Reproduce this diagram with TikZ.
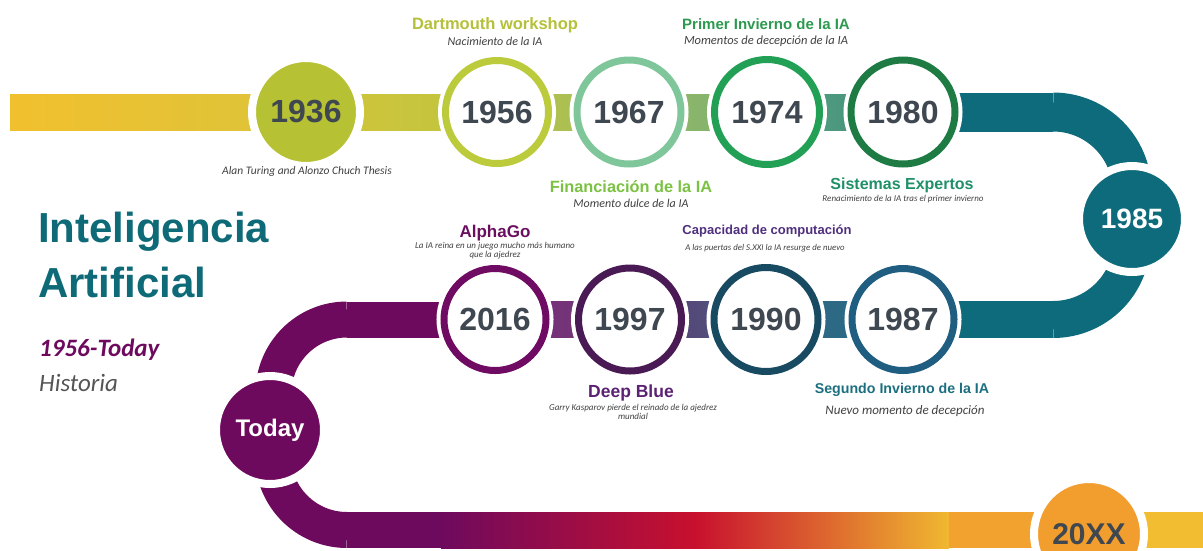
\documentclass[tikz,border=0pt]{standalone}
\usepackage{fontspec}
\setmainfont{Liberation Sans}
\newfontfamily\carl{Carlito}
\usetikzlibrary{calc}
\pgfdeclarelayer{bg}
\pgfsetlayers{bg,main}
\definecolor{yeartxt}{HTML}{3F4750}
\definecolor{notegray}{HTML}{404040}
\definecolor{titleteal}{HTML}{0F6A78}
\definecolor{tpurple}{HTML}{6E0A5E}
\definecolor{histgray}{HTML}{555555}
\definecolor{c1936}{HTML}{B6C233}
\definecolor{c1956}{HTML}{BCCB3B}
\definecolor{c1967}{HTML}{7FC79A}
\definecolor{c1974}{HTML}{22A056}
\definecolor{c1980}{HTML}{1E7B44}
\definecolor{c1985}{HTML}{0E6B7B}
\definecolor{c1987}{HTML}{1F5E80}
\definecolor{c1990}{HTML}{184A62}
\definecolor{c1997}{HTML}{4A1A54}
\definecolor{c2016}{HTML}{6F0B63}
\definecolor{cToday}{HTML}{6E0A5E}
\definecolor{c20XX}{HTML}{F29E2E}
\definecolor{hDart}{HTML}{B5C03A}
\definecolor{hFin}{HTML}{7BC143}
\definecolor{hPrim}{HTML}{2C9A4E}
\definecolor{hSis}{HTML}{1F9068}
\definecolor{hAlpha}{HTML}{6A0F5F}
\definecolor{hCap}{HTML}{4F2F7E}
\definecolor{hDeep}{HTML}{5B2172}
\definecolor{hSeg}{HTML}{1B6F80}
\definecolor{bRed}{HTML}{C8102E}
\definecolor{bYel}{HTML}{F0B830}
\definecolor{bOra}{HTML}{F2A22E}
\definecolor{bEnd}{HTML}{F2BD30}
\newcommand\bandseg[5]{\definecolor{segL}{HTML}{#3}\definecolor{segR}{HTML}{#4}%
  \fill[left color=segL,right color=segR] ($(#1)+(0,-#5)$) rectangle ($(#2)+(0,#5)$);}
\begin{document}
\begin{tikzpicture}[x=1pt,y=-1pt,
  ring/.style={circle,inner sep=0pt,minimum size=#1,fill=white,line width=7pt,
    preaction={draw=white,line width=15pt},
    font=\bfseries\fontsize{32}{32}\selectfont,text=yeartxt},
  disc/.style={circle,inner sep=0pt,minimum size=#1,draw=white,line width=8pt},
  head/.style={inner sep=0pt,font=\bfseries\fontsize{#1}{#1}\selectfont},
  note/.style={inner sep=0pt,align=center,text=notegray,font=\carl\itshape\fontsize{#1}{#1}\selectfont}]
\useasboundingbox (0,0) rectangle (1203,550);
\clip (0,0) rectangle (1203,550);

% ---- year circles
\node[disc=108,fill=c1936,text=yeartxt,font=\bfseries\fontsize{32}{32}\selectfont] (y1936) at (306,112) {1936};
\node[ring=103,draw=c1956] (y1956) at (497,112) {1956};
\node[ring=104,draw=c1967] (y1967) at (629,112) {1967};
\node[ring=105,draw=c1974] (y1974) at (767,112) {1974};
\node[ring=104,draw=c1980] (y1980) at (903,112) {1980};
\node[disc=106,fill=c1985,text=white,font=\bfseries\fontsize{28}{28}\selectfont] (y1985) at (1132,219) {1985};
\node[ring=102,draw=c1987] (y1987) at (903,319.5) {1987};
\node[ring=104,draw=c1990] (y1990) at (766,319.5) {1990};
\node[ring=103,draw=c1997] (y1997) at (630,319.5) {1997};
\node[ring=102,draw=c2016] (y2016) at (495,319.5) {2016};
\node[disc=108,fill=cToday,text=white,font=\bfseries\fontsize{24}{24}\selectfont] (today) at (270,430) {Today};
\node[disc=110,fill=c20XX,text=yeartxt,font=\bfseries\fontsize{30}{30}\selectfont] (y20XX) at (1089,534) {20XX};

% ---- band coordinates
\coordinate (start) at (10,112);
\coordinate (tA) at (1053,112);
\coordinate (tB) at (1053,319.5);
\coordinate (pA) at (347,319.5);
\coordinate (pB) at (347,530);
\coordinate (pC) at (441,530);
\coordinate (pD) at (949,530);
\coordinate (fin) at (1203,530);

\begin{pgfonlayer}{bg}
\bandseg{start}{y1936.center}{F1C02E}{DCC43A}{18}
\bandseg{y1936.center}{y1956.center}{D2C53A}{BFC43F}{18}
\bandseg{y1956.center}{y1967.center}{B8C142}{A0BF62}{18}
\bandseg{y1967.center}{y1974.center}{98BB67}{78AE70}{18}
\bandseg{y1974.center}{y1980.center}{5EA581}{3A8C7C}{18}
\fill[c1985] ($(y1980.center)+(0,-19.5)$) rectangle ($(tA)+(0,19.5)$);
\draw[c1985,line width=39pt] (tA) arc[start angle=-90,end angle=0,radius=79] -- (y1985.center);
\draw[c1985,line width=37pt] (tB) arc[start angle=90,end angle=0,radius=79] -- (y1985.center);
\fill[c1985] ($(y1987.center)+(0,-18.5)$) rectangle ($(tB)+(0,18.5)$);
\bandseg{y1990.center}{y1987.center}{2F6281}{2A6F88}{18}
\bandseg{y1997.center}{y1990.center}{5B3A72}{4B5C80}{18}
\bandseg{y2016.center}{y1997.center}{7B2C78}{6E3A78}{18}
\fill[cToday] ($(pA)+(0,-18)$) rectangle ($(y2016.center)+(0,18)$);
\draw[cToday,line width=36pt] (pA) arc[start angle=-90,end angle=-180,radius=73.5] -- (today.center);
\draw[cToday,line width=36pt] (pB) arc[start angle=90,end angle=180,radius=74] -- (today.center);
\fill[cToday] ($(pB)+(0,-18)$) rectangle ($(pC)+(0,18)$);
\fill[left color=cToday,right color=bYel,middle color=bRed] ($(pC)+(0,-18)$) rectangle ($(pD)+(0,18)$);
\fill[bOra] ($(pD)+(0,-18)$) rectangle ($(y20XX.center |- pD)+(0,18)$);
\fill[bEnd] ($(y20XX.center |- pD)+(0,-18)$) rectangle ($(fin)+(0,18)$);
\end{pgfonlayer}

% ---- title
\node[anchor=west,inner sep=0pt,text=titleteal,font=\bfseries\fontsize{42}{42}\selectfont] (t1) at (38,232) {Inteligencia};
\node[anchor=west,inner sep=0pt,text=titleteal,font=\bfseries\fontsize{42}{42}\selectfont] (t2) at (38,282) {Artificial};
\node[anchor=west,inner sep=0pt,text=tpurple,font=\carl\bfseries\itshape\fontsize{25}{25}\selectfont] (t3) at (39,350) {1956-Today};
\node[anchor=west,inner sep=0pt,text=histgray,font=\carl\itshape\fontsize{25}{25}\selectfont] (t4) at (39,383) {Historia};

% ---- labels
\node[head=16.5,text=hDart] (hd) at (495,25) {Dartmouth workshop};
\node[note=12] (nd) at (495,41) {Nacimiento de la IA};
\node[note=11.5] (n36) at (307,171) {Alan Turing and Alonzo Chuch Thesis};
\node[head=16.3,text=hFin] (hf) at (631,187) {Financiación de la IA};
\node[note=12] (nf) at (631,203) {Momento dulce de la IA};
\node[head=15,text=hPrim] (hp) at (766,24) {Primer Invierno de la IA};
\node[note=12.5] (np) at (766,41) {Momentos de decepción de la IA};
\node[head=16,text=hSis] (hs) at (902,185) {Sistemas Expertos};
\node[note=9] (ns) at (903,199) {Renacimiento de la IA tras el primer invierno};
\node[head=17,text=hAlpha] (ha) at (495,233) {AlphaGo};
\node[inner sep=0pt,align=center,text=notegray,font=\carl\itshape\fontsize{9}{7.5}\selectfont] (na) at (495,251) {La IA reina en un juego mucho más humano\\que la ajedrez};
\node[head=13,text=hCap] (hc) at (767,231) {Capacidad de computación};
\node[note=8.8] (nc) at (765,248) {A las puertas del S.XXI la IA resurge de nuevo};
\node[head=17.5,text=hDeep] (hb) at (631,393) {Deep Blue};
\node[inner sep=0pt,align=center,text=notegray,font=\carl\itshape\fontsize{9}{7.5}\selectfont] (nb) at (633,412) {Garry Kasparov pierde el reinado de la ajedrez\\mundial};
\node[head=14.2,text=hSeg] (hg) at (902,390) {Segundo Invierno de la IA};
\node[note=13] (ng) at (905,411) {Nuevo momento de decepción};
\end{tikzpicture}
\end{document}
